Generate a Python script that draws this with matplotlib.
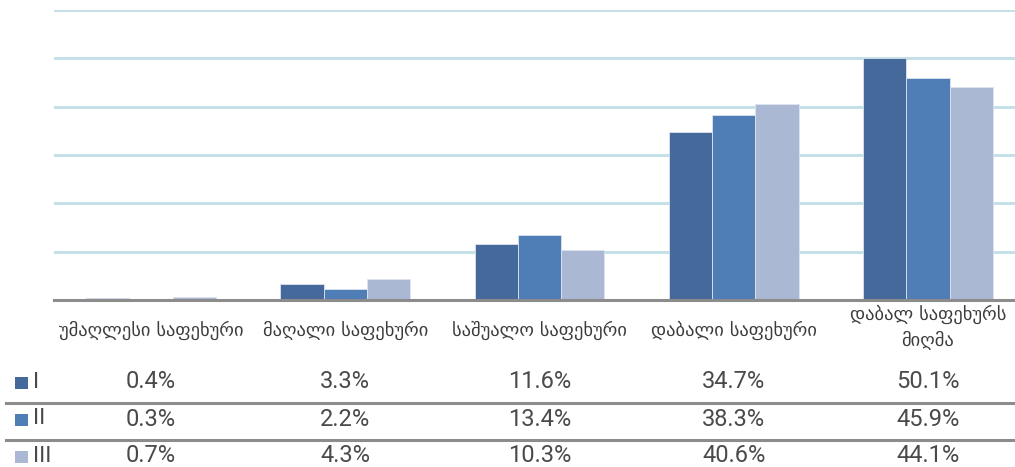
import matplotlib
matplotlib.use("Agg")
import matplotlib.pyplot as plt
import matplotlib.transforms as mtransforms
from matplotlib.lines import Line2D
from matplotlib.patches import Rectangle
import numpy as np

categories = [
    "უმაღლესი საფეხური",
    "მაღალი საფეხური",
    "საშუალო საფეხური",
    "დაბალი საფეხური",
    "დაბალ საფეხურს\nმიღმა",
]
series_names = ["I", "II", "III"]
values_I = [0.4, 3.3, 11.6, 34.7, 50.1]
values_II = [0.3, 2.2, 13.4, 38.3, 45.9]
values_III = [0.7, 4.3, 10.3, 40.6, 44.1]
series_values = [values_I, values_II, values_III]
colors = ["#44699a", "#4f7db5", "#aab8d4"]

W, H = 1015, 467
fig = plt.figure(figsize=(W / 100, H / 100), dpi=100)

left_px, right_px = 54, 1015
top_px, bottom_px = 10, 300
ax = fig.add_axes([left_px / W, 1 - bottom_px / H,
                   (right_px - left_px) / W, (bottom_px - top_px) / H])

x = np.arange(len(categories))
bw = 0.223
for i, (vals, c) in enumerate(zip(series_values, colors)):
    ax.bar(x + (i - 1) * bw, vals, width=bw, color=c,
           edgecolor="#dde4f0", linewidth=0.6, zorder=3)

ax.set_ylim(0, 60)
ax.set_xlim(-0.5, 4.5 - 10 / 194.25)
ax.set_yticks(np.arange(10, 61, 10))
ax.yaxis.grid(True, color="#c5e0e8", linewidth=2.2, zorder=0)
ax.set_axisbelow(True)
ax.tick_params(left=False, bottom=False, labelleft=False, labelbottom=False)
for s in ["left", "right", "top"]:
    ax.spines[s].set_visible(False)
ax.spines["bottom"].set_color("#8c8c8c")
ax.spines["bottom"].set_linewidth(2.2)
ax.spines["bottom"].set_zorder(4)

geo_font = ["DejaVu Sans"]
num_font = ["Roboto", "DejaVu Sans"]
text_color = "#3c3c3c"
num_color = "#4a4a4a"

trans = mtransforms.blended_transform_factory(ax.transData, fig.transFigure)

# category labels
for xi, cat in zip(x, categories):
    yc = 1 - 330 / H if "\n" not in cat else 1 - 327 / H
    ax.text(xi, yc, cat, transform=trans, ha="center", va="center",
            fontsize=13.3, family=geo_font, color=text_color,
            linespacing=1.4)

# data table rows
row_y = [382, 419, 456]
for r, (name, vals, c) in enumerate(zip(series_names, series_values, colors)):
    yf = 1 - row_y[r] / H
    fig.patches.append(Rectangle((15 / W, 1 - (row_y[r] + 7) / H), 13 / W, 12.5 / H,
                                 transform=fig.transFigure, facecolor=c,
                                 edgecolor="none"))
    fig.text(33 / W, yf, name, ha="left", va="center", fontsize=16,
             family=num_font, color=num_color)
    for xi, v in zip(x, vals):
        ax.text(xi, yf, f"{v:.1f}%", transform=trans, ha="center",
                va="center", fontsize=17, family=num_font,
                color=num_color)

for ly in [403, 440]:
    fig.lines.append(Line2D([6 / W, 1], [1 - ly / H, 1 - ly / H],
                            transform=fig.transFigure, color="#8c8c8c",
                            linewidth=2.2))

fig.savefig("out.png", dpi=100)
